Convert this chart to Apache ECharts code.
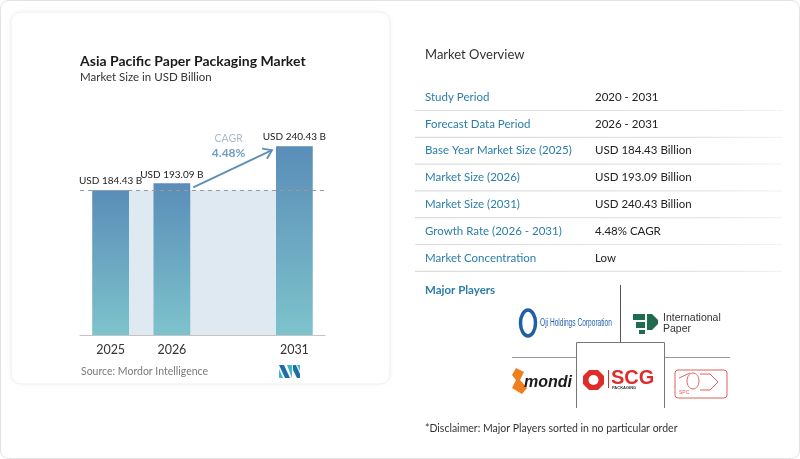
<!DOCTYPE html>
<html><head><meta charset="utf-8">
<script src="https://cdn.jsdelivr.net/npm/echarts@6/dist/echarts.min.js"></script>
<style>html,body{margin:0;padding:0;background:#fff}#c{width:800px;height:459px}</style>
</head><body><div id="c"></div>
<script>
// ---- data ----
const categories = ['2025', '2026', '', '2031'];
const marketSize = [184.43, 193.09, '-', 240.43];
const baseValue = 184.43;
const cagrText = '4.48%';
const overviewLabels = ['Study Period', 'Forecast Data Period', 'Base Year Market Size (2025)', 'Market Size (2026)', 'Market Size (2031)', 'Growth Rate (2026 - 2031)', 'Market Concentration'];
const overviewValues = ['2020 - 2031', '2026 - 2031', 'USD 184.43 Billion', 'USD 193.09 Billion', 'USD 240.43 Billion', '4.48% CAGR', 'Low'];

const FONT = 'Lato, "Noto Sans", sans-serif';
const chart = echarts.init(document.getElementById('c'));

const staticGraphic = [];
// outer frame
staticGraphic.push({type:'rect', shape:{x:0.5,y:0.5,width:799,height:458,r:8}, style:{fill:'none',stroke:'#e2e2e2',lineWidth:1}, z:-10, silent:true});
// left card
staticGraphic.push({type:'rect', shape:{x:11,y:12,width:379,height:372,r:10}, style:{fill:'#fff',stroke:'#f0f0f0',lineWidth:1,shadowBlur:6,shadowColor:'rgba(0,0,0,0.05)'}, z:-9, silent:true});
// titles
staticGraphic.push({type:'text', x:80, y:61, style:{text:'Asia Pacific Paper Packaging Market', font:'bold 14px '+FONT, fill:'#1a1a1a', textVerticalAlign:'middle'}});
staticGraphic.push({type:'text', x:80, y:77, style:{text:'Market Size in USD Billion', font:'11.5px '+FONT, fill:'#333', textVerticalAlign:'middle'}});
staticGraphic.push({type:'text', x:81, y:372, style:{text:'Source: Mordor Intelligence', font:'10.5px '+FONT, fill:'#7a7a7a', textVerticalAlign:'middle'}});
// MI logo
staticGraphic.push({type:'polygon', shape:{points:[[279,365],[284,365],[290,378],[285,378]]}, style:{fill:'#1d6fa5'}});
staticGraphic.push({type:'polygon', shape:{points:[[279,369],[283,378],[279,378]]}, style:{fill:'#3fb7c9'}});
staticGraphic.push({type:'polygon', shape:{points:[[287,365],[292,365],[292,378]]}, style:{fill:'#3fb7c9'}});
staticGraphic.push({type:'polygon', shape:{points:[[293,365],[296,365],[300,374],[300,378],[297,378],[293,370]]}, style:{fill:'#1d6fa5'}});
staticGraphic.push({type:'polygon', shape:{points:[[297,365],[300,365],[300,371]]}, style:{fill:'#3fb7c9'}});

// right panel
staticGraphic.push({type:'text', x:425, y:55, style:{text:'Market Overview', font:'13px '+FONT, fill:'#333', textVerticalAlign:'middle'}});
const rowY0 = 97, rowStep = 26.8;
overviewLabels.forEach((lab, i) => {
  const y = rowY0 + i * rowStep;
  staticGraphic.push({type:'text', x:425, y:y, style:{text:lab, font:'11.5px '+FONT, fill:'#2a7dab', textVerticalAlign:'middle'}});
  staticGraphic.push({type:'text', x:595, y:y, style:{text:overviewValues[i], font:'11.5px '+FONT, fill:'#222', textVerticalAlign:'middle'}});
  staticGraphic.push({type:'line', shape:{x1:415, y1:y+13.5, x2:782, y2:y+13.5}, style:{stroke:{type:'linear',x:0,y:0,x2:1,y2:0,colorStops:[{offset:0,color:'#dcdcdc'},{offset:0.8,color:'#e6e6e6'},{offset:1,color:'#f4f4f4'}]}, lineWidth:1.2}});
});
staticGraphic.push({type:'text', x:425, y:290, style:{text:'Major Players', font:'bold 11.5px '+FONT, fill:'#2a7dab', textVerticalAlign:'middle'}});
// logo grid
staticGraphic.push({type:'line', shape:{x1:620.5,y1:285,x2:620.5,y2:342}, style:{stroke:'#555',lineWidth:1}});
staticGraphic.push({type:'line', shape:{x1:512,y1:357.5,x2:576,y2:357.5}, style:{stroke:'#999',lineWidth:1}});
staticGraphic.push({type:'line', shape:{x1:664,y1:357.5,x2:730,y2:357.5}, style:{stroke:'#999',lineWidth:1}});
staticGraphic.push({type:'polyline', shape:{points:[[576.5,408],[576.5,342.5],[664.5,342.5],[664.5,408]]}, style:{stroke:'#777',lineWidth:1,fill:'none'}});
// Oji
staticGraphic.push({type:'ellipse', shape:{cx:528,cy:323,rx:7.5,ry:13}, style:{fill:'none',stroke:'#1f5fa8',lineWidth:3.5}});
staticGraphic.push({type:'text', x:540, y:323, scaleX:0.66, style:{text:'Oji Holdings Corporation', font:'10px "Liberation Sans", sans-serif', fill:'#2a63ad', textVerticalAlign:'middle'}});
// International Paper
staticGraphic.push({type:'polygon', shape:{points:[[633,314],[645,314],[645,320],[633,320]]}, style:{fill:'#1f6b4e'}});
staticGraphic.push({type:'polygon', shape:{points:[[636,322],[645,322],[645,328],[636,328]]}, style:{fill:'#1f6b4e'}});
staticGraphic.push({type:'polygon', shape:{points:[[639,330],[645,330],[645,334],[639,334]]}, style:{fill:'#1f6b4e'}});
staticGraphic.push({type:'polygon', shape:{points:[[647,314],[652,314],[658,320],[658,324],[652,330],[647,330]]}, style:{fill:'#1f6b4e'}});
staticGraphic.push({type:'text', x:663, y:318, style:{text:'International', font:'10.5px "Liberation Sans", sans-serif', fill:'#333', textVerticalAlign:'middle'}});
staticGraphic.push({type:'text', x:663, y:329.5, style:{text:'Paper', font:'10.5px "Liberation Sans", sans-serif', fill:'#333', textVerticalAlign:'middle'}});
// mondi
staticGraphic.push({type:'polygon', shape:{points:[[516,368],[524,372],[520,380],[527,388],[522,394],[512,388],[516,380],[512,375]]}, style:{fill:'#f07d1e'}});
staticGraphic.push({type:'text', x:524, y:383, style:{text:'mondi', font:'italic bold 16px "Liberation Sans", sans-serif', fill:'#1a1a1a', textVerticalAlign:'middle'}});
// SCG
staticGraphic.push({type:'polygon', shape:{points:[[589,370],[598,370],[604,376],[604,384],[598,390],[589,390],[583,384],[583,376]]}, style:{fill:'#e02b2b'}});
staticGraphic.push({type:'circle', shape:{cx:593.5,cy:380,r:5}, style:{fill:'#fff'}});
staticGraphic.push({type:'line', shape:{x1:608.5,y1:370,x2:608.5,y2:388}, style:{stroke:'#e02b2b',lineWidth:1}});
staticGraphic.push({type:'text', x:611, y:378, style:{text:'SCG', font:'bold 20px "Liberation Sans", sans-serif', fill:'#e02b2b', textVerticalAlign:'middle'}});
staticGraphic.push({type:'text', x:612, y:388, style:{text:'PACKAGING', font:'bold 4px "Liberation Sans", sans-serif', fill:'#333', textVerticalAlign:'middle'}});
// SPC
staticGraphic.push({type:'rect', shape:{x:675,y:370,width:52,height:28,r:3}, style:{fill:'none',stroke:'#e06060',lineWidth:1}});
staticGraphic.push({type:'ellipse', shape:{cx:693,cy:381,rx:6,ry:8}, style:{fill:'none',stroke:'#e06060',lineWidth:1}});
staticGraphic.push({type:'polyline', shape:{points:[[700,374],[710,374],[718,382],[710,390],[700,390]]}, style:{fill:'none',stroke:'#e06060',lineWidth:1}});
staticGraphic.push({type:'polyline', shape:{points:[[679,378],[690,373]]}, style:{fill:'none',stroke:'#e06060',lineWidth:1}});
staticGraphic.push({type:'text', x:679, y:393, style:{text:'SPC', font:'5px "Liberation Sans", sans-serif', fill:'#e06060', textVerticalAlign:'middle'}});
// disclaimer
staticGraphic.push({type:'text', x:425, y:429, style:{text:'*Disclaimer: Major Players sorted in no particular order', font:'10.5px '+FONT, fill:'#333', textVerticalAlign:'middle'}});

const option = {
  animation: false,
  textStyle: {fontFamily: FONT},
  grid: {left: 80, right: 475, top: 119, bottom: 124},
  xAxis: {
    type: 'category', data: categories,
    axisLine: {lineStyle: {color: '#c4c4c4'}},
    axisTick: {show: false},
    axisLabel: {color: '#333', fontSize: 12.5, margin: 8, fontFamily: FONT}
  },
  yAxis: {type: 'value', min: 0, max: 275, show: false, splitLine: {show: false}},
  series: [
    {
      type: 'custom', z: 1,
      data: [[0, 3, baseValue]],
      encode: {x: [0, 1], y: 2},
      renderItem: function (params, api) {
        const s = api.coord([api.value(0), api.value(2)]);
        const e = api.coord([api.value(1), 0]);
        const bw = api.size([1, 0])[0] * 0.6;
        return {type: 'rect', shape: {x: s[0] - bw / 2, y: s[1], width: e[0] - s[0], height: e[1] - s[1]}, style: {fill: '#dfe9f1'}};
      },
      markLine: {
        silent: true, symbol: 'none', label: {show: false},
        lineStyle: {type: [4, 4], color: '#9a9a9a', width: 1},
        data: [{yAxis: baseValue}]
      }
    },
    {
      type: 'bar', z: 2,
      data: marketSize,
      barWidth: '60%',
      itemStyle: {color: {type: 'linear', x: 0, y: 0, x2: 0, y2: 1, colorStops: [{offset: 0, color: '#5a8db8'}, {offset: 1, color: '#7dc3cb'}]}},
      label: {show: true, position: 'top', distance: 4, formatter: p => 'USD ' + p.value + ' B', color: '#222', fontSize: 10, fontWeight: 'normal', fontFamily: FONT}
    }
  ],
  graphic: staticGraphic
};
chart.setOption(option);

// arrow derived from the bar positions via the library's scales
const p1 = chart.convertToPixel({seriesIndex: 1}, [1, marketSize[1]]);
const p2 = chart.convertToPixel({seriesIndex: 1}, [3, marketSize[3]]);
const a0 = chart.convertToPixel({xAxisIndex: 0}, 0);
const a1 = chart.convertToPixel({xAxisIndex: 0}, 1);
const half = (a1 - a0) * 0.3;
const sx = p1[0] + half + 3, sy = p1[1] + 4;
const ex = p2[0] - half - 4, ey = p2[1] + 4;
const ang = Math.atan2(ey - sy, ex - sx);
const L = 10, spread = 0.6;
const h1 = [ex - L * Math.cos(ang - spread), ey - L * Math.sin(ang - spread)];
const h2 = [ex - L * Math.cos(ang + spread), ey - L * Math.sin(ang + spread)];
const mx = (sx + ex) / 2 - 4, my = (sy + ey) / 2;
const arrowGraphic = staticGraphic.concat([
  {type: 'line', shape: {x1: sx, y1: sy, x2: ex, y2: ey}, style: {stroke: '#5b8fb8', lineWidth: 1.8}, z: 10},
  {type: 'polyline', shape: {points: [h1, [ex, ey], h2]}, style: {stroke: '#5b8fb8', lineWidth: 1.8, fill: 'none'}, z: 10},
  {type: 'text', x: mx, y: my - 30, style: {text: 'CAGR', font: '10.5px ' + FONT, fill: '#a7bccb', textAlign: 'center', textVerticalAlign: 'middle'}, z: 10},
  {type: 'text', x: mx, y: my - 16, style: {text: cagrText, font: 'bold 12px ' + FONT, fill: '#6f9ec2', textAlign: 'center', textVerticalAlign: 'middle'}, z: 10}
]);
chart.setOption({graphic: arrowGraphic});
</script>
</body></html>
